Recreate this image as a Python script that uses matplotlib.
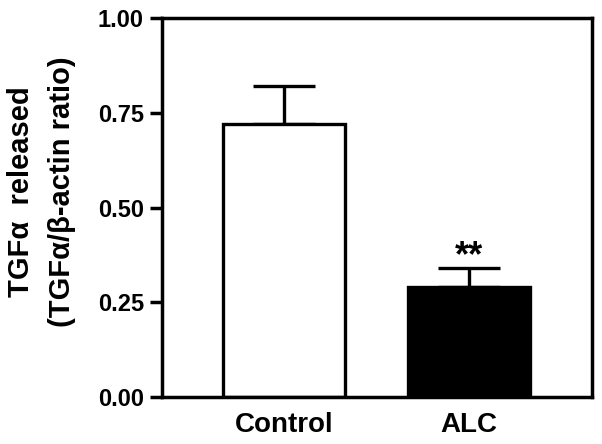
import matplotlib
matplotlib.use("Agg")
import matplotlib.pyplot as plt

groups = ["Control", "ALC"]
means = [0.72, 0.29]
sems = [0.10, 0.05]
bar_colors = ["white", "black"]
sig_marks = ["", "**"]
yticks = [0.00, 0.25, 0.50, 0.75, 1.00]

plt.rcParams["font.family"] = ["Liberation Sans", "DejaVu Sans"]
plt.rcParams["font.weight"] = "bold"

fig = plt.figure(figsize=(6.02, 4.44), dpi=100)
ax = fig.add_axes([0.269, 0.106, 0.714, 0.853])

x = list(range(len(groups)))
ax.bar(x, means, width=0.66, color=bar_colors, edgecolor="black",
       linewidth=2.4, zorder=2)
ax.errorbar(x, means, yerr=[[0] * len(sems), sems], fmt="none",
            ecolor="black", elinewidth=2.4, capsize=22, capthick=2.4, zorder=1)

# significance stars sit just above the error cap
for xi, m, s, mark in zip(x, means, sems, sig_marks):
    if mark:
        ax.text(xi, m + s + 0.005, mark, ha="center", va="baseline",
                fontsize=26, fontweight="bold")

ax.set_xlim(-0.66, 1.665)
ax.set_ylim(0, 1.0)
ax.set_yticks(yticks)
ax.set_yticklabels([f"{t:.2f}" for t in yticks])
ax.set_xticks(x)
ax.set_xticklabels(groups)

for sp in ax.spines.values():
    sp.set_linewidth(2.5)
ax.tick_params(axis="y", length=9, width=2.5, labelsize=17, pad=4)
ax.tick_params(axis="x", length=0, labelsize=20, pad=11)

fig.text(21 / 602, 1 - 192 / 444, "TGFα  released", rotation=90,
         ha="center", va="center", fontsize=21, fontweight="bold")
fig.text(62 / 602, 1 - 192 / 444, "(TGFα/β-actin ratio)", rotation=90,
         ha="center", va="center", fontsize=21, fontweight="bold")

fig.savefig("out.png", dpi=100)
